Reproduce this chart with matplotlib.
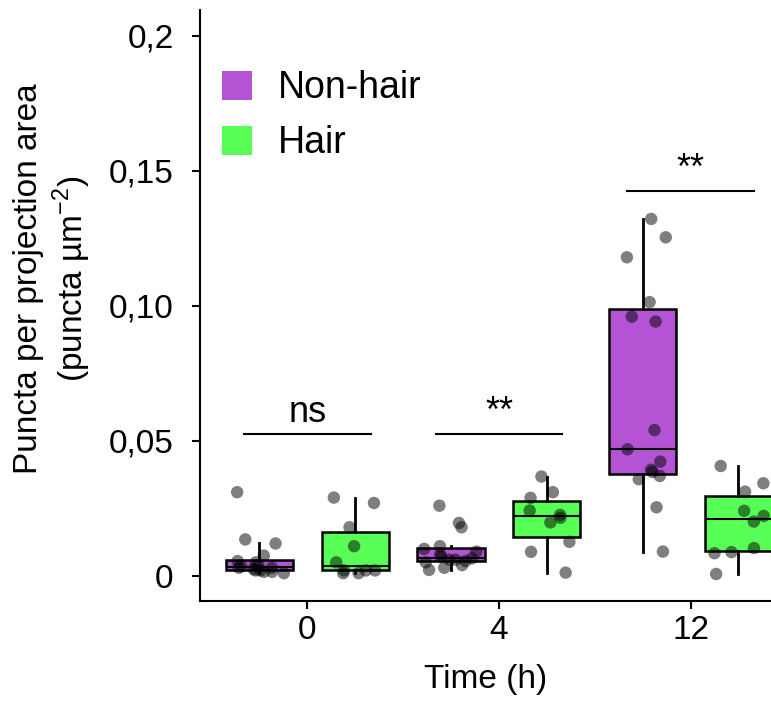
# boxplots of puncta per projection area, non-hair vs hair cells over time

import numpy as np
import matplotlib
matplotlib.use("Agg")
import matplotlib.pyplot as plt
from matplotlib.patches import Patch

plt.rcParams["font.family"] = ["Liberation Sans", "DejaVu Sans"]
plt.rcParams["mathtext.fontset"] = "custom"
plt.rcParams["mathtext.rm"] = "Liberation Sans"

times = ["0", "4", "12"]
groups = ["Non-hair", "Hair"]
colors = ["#B454D4", "#57FF57"]

nonhair_0 = [0.031, 0.0135, 0.012, 0.0075, 0.0055, 0.005, 0.004, 0.0035,
             0.003, 0.003, 0.0025, 0.002, 0.002, 0.0015, 0.0015, 0.001]
hair_0 = [0.029, 0.027, 0.018, 0.011, 0.005, 0.002, 0.002, 0.002, 0.001, 0.001]

nonhair_4 = [0.026, 0.0196, 0.018, 0.011, 0.010, 0.009, 0.008, 0.007,
             0.0065, 0.006, 0.006, 0.0055, 0.005, 0.004, 0.003, 0.0022]
hair_4 = [0.0368, 0.031, 0.0289, 0.0242, 0.0226, 0.0215, 0.0198, 0.0126,
          0.0089, 0.0012]

nonhair_12 = [0.1322, 0.1254, 0.118, 0.1014, 0.096, 0.0942, 0.054, 0.0469,
              0.0423, 0.0393, 0.0385, 0.037, 0.0358, 0.0254, 0.009]
hair_12 = [0.0407, 0.0343, 0.0312, 0.0241, 0.0222, 0.0201, 0.0103, 0.0084,
           0.0088, 0.0007]

data = {"Non-hair": [nonhair_0, nonhair_4, nonhair_12],
        "Hair": [hair_0, hair_4, hair_12]}

sig_labels = ["ns", "**", "**"]
sig_heights = [0.0526, 0.0526, 0.1424]

yticks = [0, 0.05, 0.10, 0.15, 0.2]
yticklabels = ["0", "0,05", "0,10", "0,15", "0,2"]

fig = plt.figure(figsize=(7.71, 7.02), dpi=100)
ax = fig.add_axes([0.2594, 0.1439, 0.7406, 0.8419])

x = np.arange(len(times))
offset = 0.25
width = 0.35
rng = np.random.default_rng(3)

for i, g in enumerate(groups):
    pos = x + (i * 2 - 1) * offset
    bp = ax.boxplot(data[g], positions=pos, widths=width, patch_artist=True,
                    showfliers=False, showcaps=False, whis=1.5,
                    medianprops=dict(color="black", linewidth=1.5),
                    whiskerprops=dict(color="black", linewidth=2),
                    boxprops=dict(edgecolor="black", linewidth=1.8))
    for b in bp["boxes"]:
        b.set_facecolor(colors[i])
        b.set_clip_on(False)
    for p, vals in zip(pos, data[g]):
        jit = rng.uniform(-0.14, 0.14, len(vals))
        ax.scatter(p + jit, vals, s=80, color="black", alpha=0.5,
                   edgecolors="none", zorder=3, clip_on=False)

# significance bars
for xi, lab, h in zip(x, sig_labels, sig_heights):
    ax.plot([xi - 0.33, xi + 0.33], [h, h], color="black", linewidth=1.5)
    ax.text(xi, h + 0.0015, lab, ha="center", va="bottom", fontsize=26)

ax.set_xlim(-0.56, 2.42)
ax.set_ylim(-0.0093, 0.2096)
ax.set_xticks(x)
ax.set_xticklabels(times)
ax.set_yticks(yticks)
ax.set_yticklabels(yticklabels)
ax.tick_params(axis="both", labelsize=24, width=1.5, length=6, color="black")
ax.tick_params(axis="y", pad=13)
ax.tick_params(axis="x", pad=4)
for s in ["top", "right"]:
    ax.spines[s].set_visible(False)
for s in ["left", "bottom"]:
    ax.spines[s].set_linewidth(1.5)

ax.set_xlabel("Time (h)", fontsize=24, labelpad=13)
ax.set_ylabel("Puncta per projection area\n(puncta µm$^{\\mathregular{-2}}$)",
              fontsize=24)
ax.yaxis.set_label_coords(-0.188, 0.545)

handles = [Patch(facecolor=c, edgecolor="none") for c in colors]
ax.legend(handles, groups, loc="upper left", bbox_to_anchor=(0.012, 0.923),
          frameon=False, fontsize=27, handlelength=0.8, handleheight=0.8,
          handletextpad=0.7, labelspacing=0.5, borderaxespad=0)

plt.savefig("out.png", dpi=100)
